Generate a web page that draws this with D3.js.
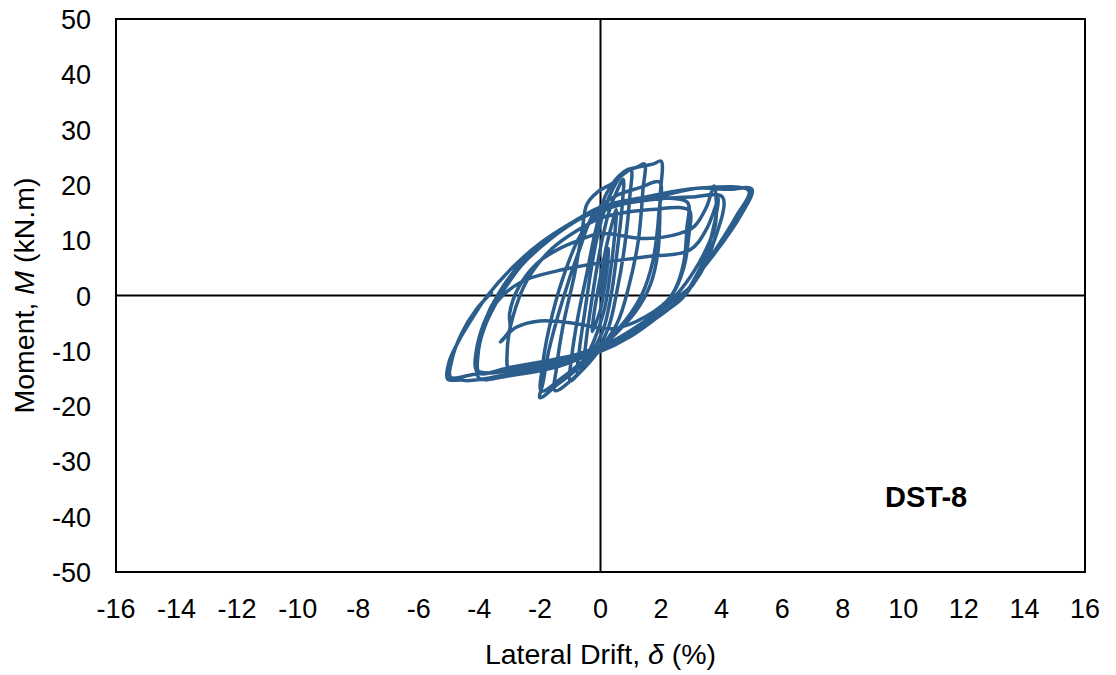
<!DOCTYPE html>
<html>
<head>
<meta charset="utf-8">
<script src="https://cdn.jsdelivr.net/npm/d3@7"></script>
<style>
  body { margin: 0; background: #fff; }
  svg { display: block; font-family: "Liberation Sans", Arial, sans-serif; }
</style>
</head>
<body>
<svg id="chart"></svg>
<script>
// tick labels
const xTicks = [-16, -14, -12, -10, -8, -6, -4, -2, 0, 2, 4, 6, 8, 10, 12, 14, 16];
const yTicks = [-50, -40, -30, -20, -10, 0, 10, 20, 30, 40, 50];

// hysteresis loops, [drift %, moment kN.m]
const cycle025 = [[0, 0], [0.08, 3], [0.2, 7], [0.27, 8.5], [0.22, 5], [0.12, 1], [0, -2.5], [-0.15, -5], [-0.27, -6.5], [-0.22, -3.5], [-0.1, 0.5], [0.02, 4]];
const cycle050 = [[0.2, 9], [0.38, 13], [0.52, 15.5], [0.47, 11], [0.32, 4], [0.15, -2], [-0.1, -6.5], [-0.32, -9.5], [-0.52, -11.5], [-0.47, -8], [-0.32, -2], [-0.12, 5], [0.05, 10]];
const cycle075 = [[0.3, 15.5], [0.55, 19], [0.75, 21], [0.72, 16.5], [0.55, 8], [0.35, 0], [0.1, -6], [-0.3, -10.5], [-0.75, -14], [-0.7, -10], [-0.52, -3], [-0.3, 5], [-0.05, 12]];
const cycle100 = [[0.3, 18], [0.7, 21.8], [1.0, 22.8], [0.97, 18], [0.8, 9], [0.55, 1], [0.25, -6], [-0.3, -11.5], [-0.7, -14], [-1.0, -15.5], [-0.95, -11], [-0.75, -4], [-0.45, 4], [-0.15, 12]];
const cycle150 = [[0.2, 18.5], [0.8, 22.5], [1.2, 23.2], [1.45, 23.8], [1.4, 19], [1.25, 10], [0.95, 2], [0.55, -5], [-0.2, -11], [-0.8, -14.5], [-1.5, -17.2], [-1.45, -13], [-1.22, -5], [-0.85, 4], [-0.6, 12], [-0.45, 16.5], [-0.1, 18.7]];
const cycle200 = [[0.4, 20.3], [0.96, 22.7], [1.5, 23.5], [1.75, 23.8], [2.0, 24.3], [1.97, 18], [1.9, 8], [1.65, 2], [1.15, -3], [0.3, -8], [-0.7, -13], [-1.4, -16], [-2.0, -18.5], [-1.9, -15.8], [-1.7, -9.8], [-1.25, -0.8], [-0.7, 8.2], [-0.2, 15]];
const cycle200b = [[0.5, 18], [1.3, 19.5], [1.95, 20.5], [1.93, 15], [1.72, 6], [1.35, 0], [0.6, -6], [-0.5, -11.5], [-1.3, -15], [-1.95, -17.3], [-1.92, -13], [-1.7, -6], [-1.25, 3], [-0.65, 11], [0, 15]];
const cycle300 = [[0.7, 16.5], [1.5, 17.3], [2.3, 17.6], [2.88, 16.8], [2.85, 12], [2.75, 6], [2.45, 1], [1.8, -3.5], [0.6, -8], [-0.8, -11.3], [-2, -12.8], [-3, -13.6], [-3.08, -10], [-2.9, -4], [-2.4, 3], [-1.6, 8.5], [-0.7, 12], [0, 14]];
const cycle300b = [[0.8, 15], [1.8, 15.6], [2.6, 15.9], [2.95, 15.3], [2.92, 11], [2.75, 5], [2.35, 0], [1.5, -3.8], [0.4, -6], [-0.9, -5], [-2, -4.6], [-2.8, -5.8], [-3.3, -8.4], [-3.0, -6.2], [-3.0, -3.2], [-2.7, 1.5], [-2.1, 5.8], [-1.45, 8.2], [-0.7, 10], [0, 11.2]];
const cycle400 = [[1.5, 10.3], [2.6, 11.2], [3.1, 12.5], [3.5, 16], [3.75, 19.8], [3.8, 13], [3.5, 8.5], [3.1, 4.5], [2.55, 0.4], [1.8, -3.5], [0.8, -7.5], [-0.3, -10.5], [-1.5, -13], [-3, -14.5], [-4, -15], [-4.1, -12.5], [-4.05, -9.8], [-3.77, -4.9], [-3.3, 0], [-2.6, 5.5], [-1.7, 10], [-0.8, 13.5], [0, 15.5], [1, 16.8], [2, 17.5], [3, 17.8], [4.03, 17.8]];
const cycle400b = [[3.7, 9], [3.3, 4], [2.75, 0], [2, -3.5], [1, -7], [0, -9.5], [-1.5, -11.5], [-3, -13], [-4, -14], [-4.05, -11], [-3.85, -6], [-3.4, -1], [-2.6, 2.5], [-1.4, 4.5], [0.1, 6], [1.5, 7], [2.94, 8.2], [3.5, 12], [3.9, 17.5], [3.5, 7.5], [3.1, 3], [2.7, -0.5], [1.8, -4], [0.5, -8], [-1, -11], [-2.5, -13], [-3.6, -14], [-4.1, -13.5], [-4.1, -10], [-3.85, -5], [-3.35, 0.5], [-2.6, 6], [-1.6, 10.5], [-0.7, 13.8], [0, 15.5]];
const cycle500 = [[1, 17], [2, 18], [3.2, 19.4], [4.2, 19.2], [5, 19.2], [4.6, 14.2], [3.93, 8.8], [3.17, 3.3], [2.84, 0.4], [2.05, -3.2], [0.96, -7.5], [-0.13, -10.4], [-1.2, -12], [-2.35, -13.4], [-3.2, -14.4], [-4, -15.2], [-4.4, -15.4], [-4.6, -15.3], [-5.05, -15.1], [-5.0, -12], [-4.66, -8], [-4.2, -3.8], [-3.73, 0], [-2.9, 5.1], [-2.0, 9.4], [-1.0, 13], [0, 16], [1.5, 17.8], [3.2, 19.4], [4.9, 18.9]];
const cycle500b = [[4.5, 14.5], [4, 10], [3.4, 5], [2.95, 1.5], [2.5, -0.5], [1.5, -4.5], [0.2, -8.8], [-1.5, -11.8], [-3, -13.5], [-4.2, -14.3], [-4.95, -14.8], [-4.9, -11.5], [-4.6, -7], [-4.1, -2.5], [-3.6, 0.5]];

const loops = [].concat(cycle025, cycle050, cycle075, cycle100, cycle150, cycle200, cycle200b,
  cycle300, cycle300b, cycle400, cycle400b, cycle500, cycle500b);

const width = 1116, height = 675;
const plot = { left: 116, right: 1085, top: 19, bottom: 572 };

const svg = d3.select('#chart')
  .attr('width', width)
  .attr('height', height);

const x = d3.scaleLinear().domain([-16, 16]).range([plot.left, plot.right]);
const y = d3.scaleLinear().domain([-50, 50]).range([plot.bottom, plot.top]);

// zero lines
svg.append('line')
  .attr('x1', x(0)).attr('x2', x(0))
  .attr('y1', plot.top).attr('y2', plot.bottom)
  .attr('stroke', '#000').attr('stroke-width', 2);

svg.append('line')
  .attr('x1', plot.left).attr('x2', plot.right)
  .attr('y1', y(0)).attr('y2', y(0))
  .attr('stroke', '#000').attr('stroke-width', 2);

// hysteresis curve
let line = d3.line()
  .x((d) => x(d[0]))
  .y((d) => y(d[1]))
  .curve(d3.curveCatmullRom.alpha(0.5));

svg.append('path')
  .datum(loops)
  .attr('fill', 'none')
  .attr('stroke', '#2b5e8c')
  .attr('stroke-width', 3.5)
  .attr('stroke-linejoin', 'round')
  .attr('stroke-linecap', 'round')
  .attr('d', line);

// frame
svg.append('rect')
  .attr('x', plot.left).attr('y', plot.top)
  .attr('width', plot.right - plot.left)
  .attr('height', plot.bottom - plot.top)
  .attr('fill', 'none')
  .attr('stroke', '#000')
  .attr('stroke-width', 2);

// tick labels
svg.append('g')
  .selectAll('text')
  .data(xTicks)
  .enter().append('text')
    .attr('x', (d) => x(d))
    .attr('y', 618)
    .attr('text-anchor', 'middle')
    .attr('font-size', 27)
    .text((d) => d);

svg.append('g')
  .selectAll('text')
  .data(yTicks)
  .enter().append('text')
    .attr('x', 91)
    .attr('y', (d) => y(d) + 10)
    .attr('text-anchor', 'end')
    .attr('font-size', 27)
    .text((d) => d);

// axis titles
let xTitle = svg.append('text')
  .attr('x', x(0))
  .attr('y', 664)
  .attr('text-anchor', 'middle')
  .attr('font-size', 28.5);
xTitle.append('tspan').text('Lateral Drift, ');
xTitle.append('tspan').attr('font-style', 'italic').text('δ');
xTitle.append('tspan').text(' (%)');

let yTitle = svg.append('text')
  .attr('transform', `translate(34, ${y(0)}) rotate(-90)`)
  .attr('text-anchor', 'middle')
  .attr('font-size', 28.5);
yTitle.append('tspan').text('Moment, ');
yTitle.append('tspan').attr('font-style', 'italic').text('M');
yTitle.append('tspan').text(' (kN.m)');

// specimen label
svg.append('text')
  .attr('x', 885)
  .attr('y', 507)
  .attr('font-size', 29)
  .attr('font-weight', 'bold')
  .text('DST-8');
</script>
</body>
</html>
